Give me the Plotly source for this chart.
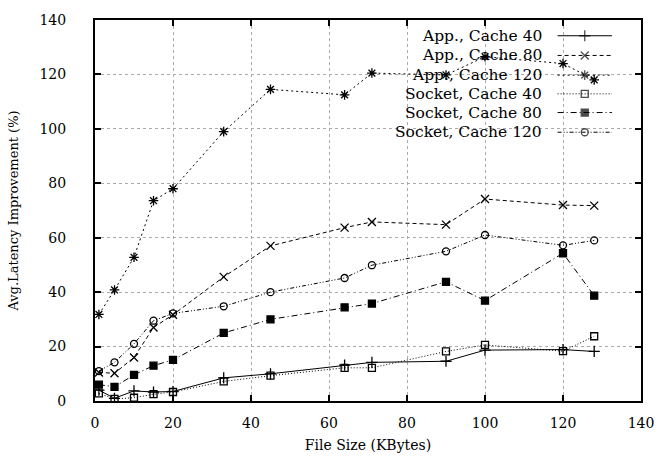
import plotly.graph_objects as go

file_size = [1, 5, 10, 15, 20, 33, 45, 64, 71, 90, 100, 120, 128]

app_cache40 = [4.0, 1.0, 3.7, 3.3, 3.5, 8.5, 10.0, 13.2, 14.2, 14.6, 18.7, 18.9, 18.2]
app_cache80 = [10.5, 10.2, 16.0, 27.0, 31.7, 45.6, 57.0, 63.7, 65.8, 64.8, 74.2, 72.0, 71.8]
app_cache120 = [31.8, 40.8, 52.8, 73.6, 78.0, 99.0, 114.5, 112.5, 120.5, 119.8, 126.5, 124.0, 118.0]
sock_cache40 = [2.8, 0.8, 1.2, 2.5, 3.3, 7.2, 9.3, 12.2, 12.2, 18.2, 20.6, 18.3, 23.8]
sock_cache80 = [6.0, 5.2, 9.6, 13.0, 15.1, 25.0, 30.0, 34.4, 35.8, 43.8, 36.9, 54.3, 38.7]
sock_cache120 = [11.0, 14.2, 21.0, 29.5, 32.2, 34.8, 40.0, 45.2, 49.9, 55.0, 61.0, 57.2, 59.0]

series_names = ["App., Cache 40", "App., Cache 80", "App., Cache 120",
                "Socket, Cache 40", "Socket, Cache 80", "Socket, Cache 120"]
series_values = [app_cache40, app_cache80, app_cache120,
                 sock_cache40, sock_cache80, sock_cache120]
styles = [
    dict(dash="solid", symbol="cross-thin-open", size=8),
    dict(dash="4px,3px", symbol="x-thin-open", size=8),
    dict(dash="2px,3px", symbol="asterisk-open", size=8),
    dict(dash="1px,2px", symbol="square-open", size=7),
    dict(dash="6px,3px,1px,3px", symbol="square", size=7),
    dict(dash="4px,2px,1px,2px,1px,2px", symbol="circle-open", size=7),
]

FONT = "DejaVu Serif"

fig = go.Figure()
for name, vals, st in zip(series_names, series_values, styles):
    fig.add_trace(go.Scatter(
        x=file_size, y=vals, mode="lines+markers", name=name, showlegend=False,
        line=dict(color="black", width=1, dash=st["dash"]),
        marker=dict(symbol=st["symbol"], size=st["size"], color="black",
                    line=dict(color="black", width=1.3)),
    ))

# gnuplot-style key: text on the left, sample on the right
row_px = [30, 50, 70, 89, 108, 128]
plot_top, plot_bottom, plot_left, plot_right = 14, 401, 90, 653
for name, st, py in zip(series_names, styles, row_px):
    yp = (plot_bottom - py) / (plot_bottom - plot_top)
    x0 = (567 - plot_left) / (plot_right - plot_left)
    x1 = (623 - plot_left) / (plot_right - plot_left)
    fig.add_trace(go.Scatter(
        x=[x0, (x0 + x1) / 2, x1], y=[yp, yp, yp], mode="lines+markers",
        xaxis="x2", yaxis="y2", showlegend=False, hoverinfo="skip",
        line=dict(color="black", width=1, dash=st["dash"]),
        marker=dict(symbol=st["symbol"], size=[0, st["size"], 0], color="black",
                    line=dict(color="black", width=1.3)),
    ))
    fig.add_annotation(
        x=(553 - plot_left) / (plot_right - plot_left), y=yp, xref="paper", yref="paper",
        text=name, showarrow=False, xanchor="right", yanchor="middle",
        font=dict(family=FONT, size=15.5, color="black"),
    )

axis_common = dict(
    showline=True, linecolor="black", linewidth=2, mirror="ticks",
    ticks="inside", ticklen=6, tickwidth=1.5, tickcolor="black",
    showgrid=True, gridcolor="#aaaaaa", griddash="dot", gridwidth=1,
    zeroline=False, tickfont=dict(family=FONT, size=14, color="black"),
    ticklabeloverflow="allow",
)

fig.update_layout(
    width=666, height=464,
    margin=dict(l=90, r=13, t=14, b=63),
    paper_bgcolor="white", plot_bgcolor="white",
    font=dict(family=FONT, size=14, color="black"),
    xaxis=dict(range=[0, 140], tickvals=[0, 20, 40, 60, 80, 100, 120, 140],
               title=dict(text="File Size (KBytes)", standoff=10,
                          font=dict(family=FONT, size=14)),
               ticklabelstandoff=8, **axis_common),
    yaxis=dict(range=[0, 140], tickvals=[0, 20, 40, 60, 80, 100, 120, 140],
               title=dict(text="Avg.Latency Improvement (%)", standoff=18,
                          font=dict(family=FONT, size=13)),
               ticklabelstandoff=24, **axis_common),
    xaxis2=dict(overlaying="x", range=[0, 1], visible=False),
    yaxis2=dict(overlaying="y", range=[0, 1], visible=False),
)

fig.write_html("out.html")
